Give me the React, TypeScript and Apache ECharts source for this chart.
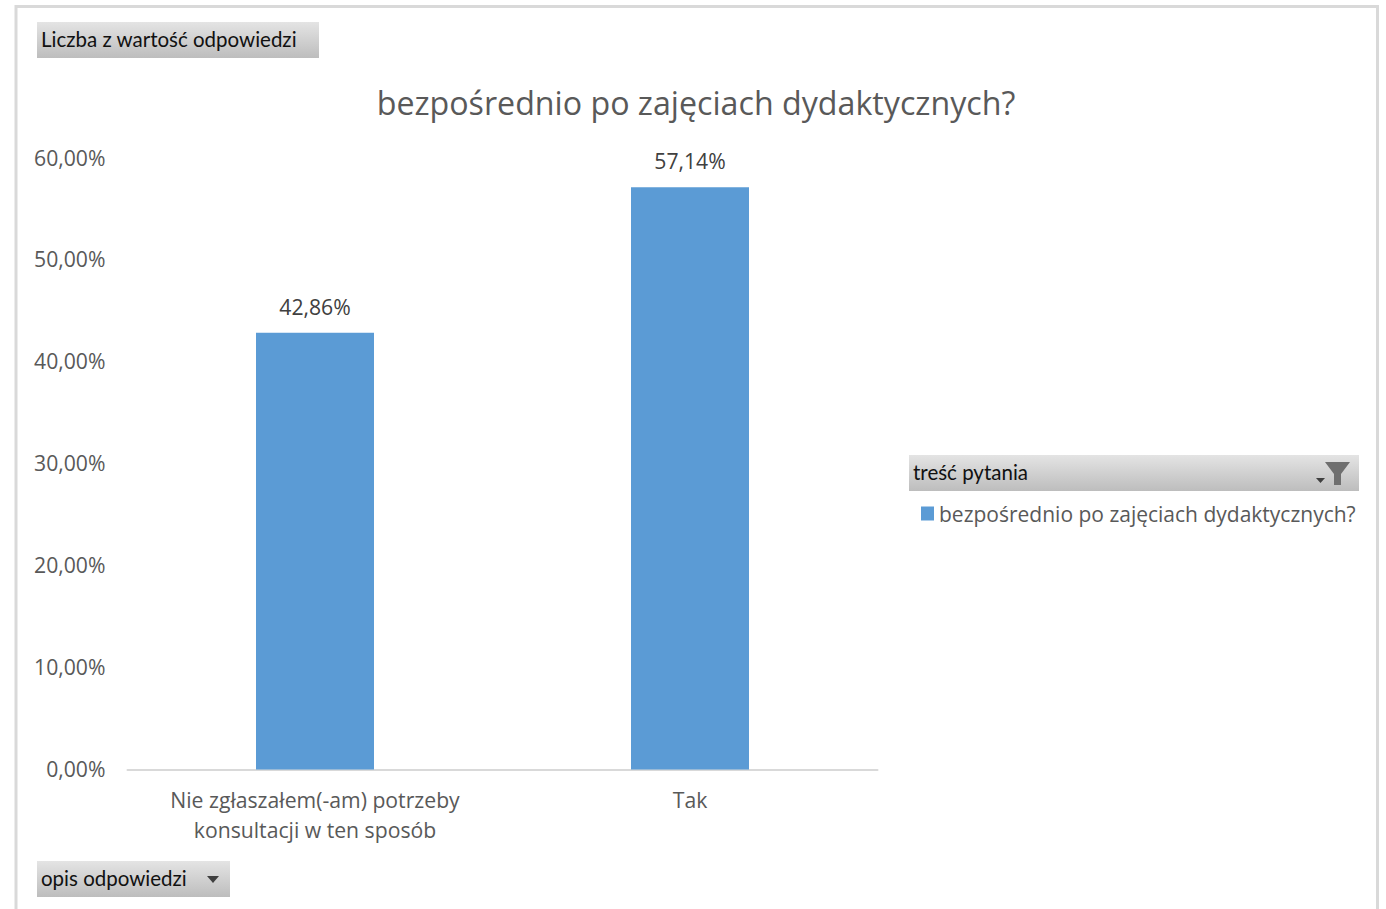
import React, { useEffect, useRef } from "react";
import * as echarts from "echarts";

const categories = ["Nie zgłaszałem(-am) potrzeby\nkonsultacji w ten sposób", "Tak"];
const values = [42.86, 57.14];
const seriesName = "bezpośrednio po zajęciach dydaktycznych?";
const titleText = "bezpośrednio po zajęciach dydaktycznych?";
const measureLabel = "Liczba z wartość odpowiedzi";
const categoryLabel = "opis odpowiedzi";
const legendLabel = "treść pytania";

const FONT = "'Open Sans', 'Noto Sans', sans-serif";
const BTN_FONT = "Lato, 'Open Sans', sans-serif";
const gray = () =>
  new echarts.graphic.LinearGradient(0, 0, 0, 1, [
    { offset: 0, color: "#e4e4e4" },
    { offset: 1, color: "#bdbdbd" },
  ]);

const fmt = (v: number) => v.toFixed(2).replace(".", ",") + "%";

const button = (x: number, y: number, w: number, h: number) => ({
  type: "rect",
  shape: { x, y, width: w, height: h },
  style: { fill: gray() },
  silent: true,
});
const btnText = (x: number, y: number, text: string) => ({
  type: "text",
  x,
  y,
  style: { text, font: `20.5px ${BTN_FONT}`, fill: "#111", textVerticalAlign: "middle" },
  silent: true,
});

export default function App() {
  const ref = useRef<HTMLDivElement>(null);
  useEffect(() => {
    document.body.style.margin = "0";
    const chart = echarts.init(ref.current!, undefined, { renderer: "svg" });
    chart.setOption({
      animation: false,
      backgroundColor: "#ffffff",
      title: {
        text: titleText,
        left: 691,
        top: 81,
        textAlign: "center",
        textStyle: { fontFamily: FONT, fontSize: 32.2, fontWeight: "normal", color: "#595959" },
      },
      legend: {
        left: 916,
        top: 498,
        itemWidth: 13,
        itemHeight: 14,
        itemGap: 0,
        icon: "rect",
        textStyle: { fontFamily: FONT, fontSize: 21, color: "#595959", padding: [0, 0, 0, 0] },
        data: [seriesName],
      },
      grid: { left: 127.5, right: 508.5, top: 158, bottom: 139.5 },
      xAxis: {
        type: "category",
        data: categories,
        axisTick: { show: false },
        axisLine: { lineStyle: { color: "#d9d9d9", width: 2 } },
        axisLabel: {
          interval: 0,
          color: "#595959",
          fontFamily: FONT,
          fontSize: 21.2,
          lineHeight: 30,
          margin: 15,
        },
      },
      yAxis: {
        type: "value",
        min: 0,
        max: 60,
        interval: 10,
        axisLine: { show: false },
        axisTick: { show: false },
        splitLine: { show: false },
        axisLabel: {
          color: "#595959",
          fontFamily: FONT,
          fontSize: 21.2,
          margin: 22,
          verticalAlign: "bottom",
          lineHeight: 2,
          formatter: (v: number) => fmt(v),
        },
      },
      series: [
        {
          name: seriesName,
          type: "bar",
          data: values,
          barWidth: 118,
          itemStyle: { color: "#5b9bd5" },
          label: {
            show: true,
            position: "top",
            distance: 16,
            color: "#404040",
            fontFamily: FONT,
            fontSize: 21.2,
            formatter: (p: any) => fmt(p.value),
          },
        },
      ],
      graphic: [
        {
          type: "polyline",
          shape: { points: [[16, 909], [16, 6.5], [1377.5, 6.5], [1377.5, 909]] },
          style: { stroke: "#d9d9d9", lineWidth: 3, fill: "none" },
          silent: true,
        },
        button(37, 22, 282, 36),
        btnText(41, 39, measureLabel),
        button(37, 861, 193, 36),
        btnText(41, 878, categoryLabel),
        {
          type: "polygon",
          shape: { points: [[207, 876], [219, 876], [213, 883]] },
          style: { fill: "#3f3f3f" },
          silent: true,
        },
        button(909, 455, 450, 36),
        btnText(913, 472, legendLabel),
        {
          type: "polygon",
          shape: {
            points: [[1325, 462], [1350, 462], [1341, 474], [1341, 485], [1334, 485], [1334, 474]],
          },
          style: { fill: "#6f6f6f" },
          silent: true,
        },
        {
          type: "polygon",
          shape: { points: [[1316, 478], [1325, 478], [1320.5, 483]] },
          style: { fill: "#3f3f3f" },
          silent: true,
        },
      ],
    });
    return () => chart.dispose();
  }, []);
  return <div ref={ref} style={{ width: 1386, height: 909 }} />;
}
